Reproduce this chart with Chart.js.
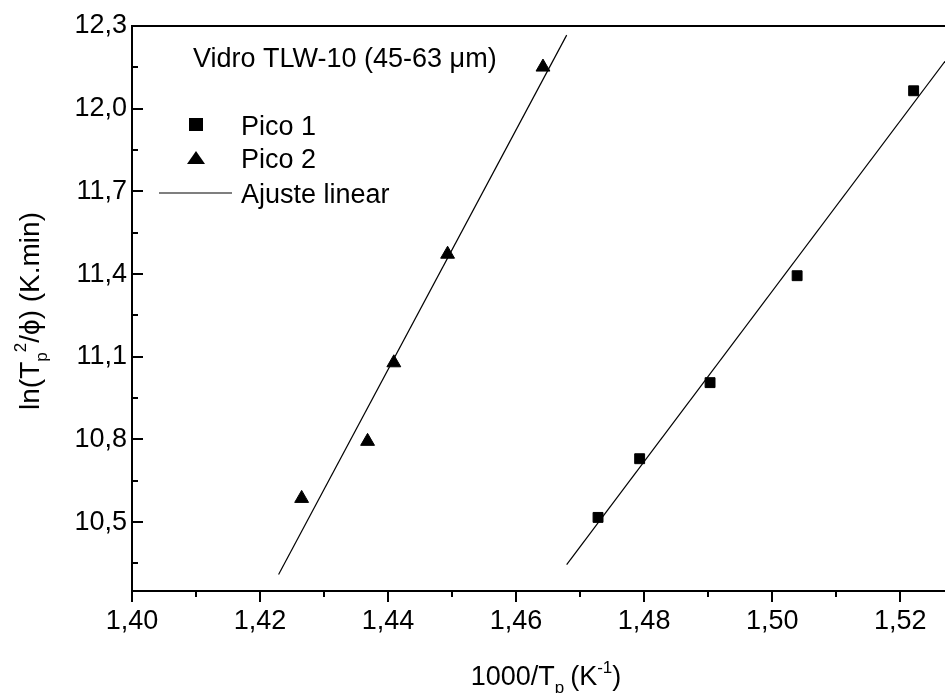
<!DOCTYPE html>
<html><head><meta charset="utf-8">
<script src="https://cdn.jsdelivr.net/npm/chart.js@4"></script>
<style>html,body{margin:0;padding:0;background:#fff;overflow:hidden}#wrap{width:945px;height:693px;position:relative}</style>
</head><body><div id="wrap"><canvas id="c" width="945" height="693"></canvas></div>
<script>
// ---- data ----
const pico1X = [1.4728, 1.4793, 1.4903, 1.5039, 1.5221];
const pico1Y = [10.517, 10.730, 11.006, 11.394, 12.065];
const pico2X = [1.4265, 1.4368, 1.4409, 1.4493, 1.4642];
const pico2Y = [10.586, 10.793, 11.078, 11.472, 12.151];
const fit1X = [1.4679, 1.527];
const fit1Y = [10.346, 12.172];
const fit2X = [1.4229, 1.4679];
const fit2Y = [10.310, 12.267];
const xMajorTicks = [1.40, 1.42, 1.44, 1.46, 1.48, 1.50, 1.52];
const xTickLabels = ['1,40', '1,42', '1,44', '1,46', '1,48', '1,50', '1,52'];
const xMinorTicks = [1.41, 1.43, 1.45, 1.47, 1.49, 1.51];
const yMajorTicks = [10.5, 10.8, 11.1, 11.4, 11.7, 12.0, 12.3];
const yTickLabels = ['10,5', '10,8', '11,1', '11,4', '11,7', '12,0', '12,3'];
const yMinorTicks = [10.35, 10.65, 10.95, 11.25, 11.55, 11.85, 12.15];
const seriesNames = ['Pico 1', 'Pico 2', 'Ajuste linear'];
const noteText = 'Vidro TLW-10 (45-63 \u03BCm)';

const FONT = "'Liberation Sans', Arial, Helvetica, sans-serif";
const FS = 27;

function pts(xs, ys) { return xs.map((x, i) => ({ x: x, y: ys[i] })); }

function richWidth(ctx, parts, size) {
  let w = 0;
  for (const p of parts) {
    ctx.font = ((p.sub || p.sup) ? Math.round(size * 0.62) : size) + 'px ' + FONT;
    w += ctx.measureText(p.t).width + (p.gap || 0);
  }
  return w;
}
function drawRich(ctx, parts, cx, baseY, size) {
  const w = richWidth(ctx, parts, size);
  let x = cx - w / 2;
  ctx.textAlign = 'left';
  ctx.textBaseline = 'alphabetic';
  for (const p of parts) {
    const s = (p.sub || p.sup) ? Math.round(size * 0.62) : size;
    ctx.font = s + 'px ' + FONT;
    const dy = p.sub ? size * 0.3 : (p.sup ? -size * 0.45 : 0);
    ctx.fillText(p.t, x, baseY + dy);
    x += ctx.measureText(p.t).width + (p.gap || 0);
  }
}

const decor = {
  id: 'decor',
  afterDraw(chart) {
    const ctx = chart.ctx;
    const a = chart.chartArea;
    const xs = chart.scales.x, ys = chart.scales.y;
    ctx.save();
    ctx.strokeStyle = '#000';
    ctx.fillStyle = '#000';
    // top frame line
    ctx.lineWidth = 2;
    ctx.beginPath();
    ctx.moveTo(a.left - 1, a.top);
    ctx.lineTo(a.right, a.top);
    ctx.stroke();
    // x ticks (outward)
    const drawX = (vals, len) => {
      for (const v of vals) {
        const px = Math.round(xs.getPixelForValue(v));
        ctx.beginPath(); ctx.moveTo(px, a.bottom); ctx.lineTo(px, a.bottom + len); ctx.stroke();
      }
    };
    drawX(xMajorTicks, 11); drawX(xMinorTicks, 6);
    // y ticks (inward)
    const drawY = (vals, len) => {
      for (const v of vals) {
        const py = Math.round(ys.getPixelForValue(v));
        ctx.beginPath(); ctx.moveTo(a.left, py); ctx.lineTo(a.left + len, py); ctx.stroke();
      }
    };
    drawY(yMajorTicks, 11); drawY(yMinorTicks, 6);

    // axis titles
    ctx.fillStyle = '#000';
    drawRich(ctx, [{ t: '1000/T' }, { t: 'p', sub: true, gap: 6 }, { t: '(K' }, { t: '-1', sup: true }, { t: ')' }], 546, 685, 27);
    ctx.save();
    ctx.translate(39, 311);
    ctx.rotate(-Math.PI / 2);
    drawRich(ctx, [{ t: 'ln(T' }, { t: 'p', sub: true }, { t: '2', sup: true }, { t: '/\u03D5) (K.min)' }], 0, 0, 28);
    ctx.restore();

    // note + legend
    ctx.font = FS + 'px ' + FONT;
    ctx.textAlign = 'left';
    ctx.textBaseline = 'alphabetic';
    ctx.fillText(noteText, 193, 67);
    // square
    ctx.fillRect(189, 118, 14, 13);
    ctx.fillText(seriesNames[0], 241, 135);
    // triangle
    ctx.beginPath();
    ctx.moveTo(196, 151); ctx.lineTo(205, 164); ctx.lineTo(187, 164); ctx.closePath(); ctx.fill();
    ctx.fillText(seriesNames[1], 241, 168);
    // line
    ctx.lineWidth = 1.2;
    ctx.beginPath(); ctx.moveTo(159, 193); ctx.lineTo(232, 193); ctx.stroke();
    ctx.fillText(seriesNames[2], 241, 203);
    ctx.restore();
  }
};

new Chart(document.getElementById('c').getContext('2d'), {
  type: 'scatter',
  data: {
    datasets: [
      { label: seriesNames[0], data: pts(pico1X, pico1Y), pointStyle: 'rect', pointRadius: 7, backgroundColor: '#000', borderColor: '#000', borderWidth: 1, showLine: false },
      { label: seriesNames[1], data: pts(pico2X, pico2Y), pointStyle: 'triangle', pointRadius: 8, backgroundColor: '#000', borderColor: '#000', borderWidth: 1, showLine: false },
      { label: seriesNames[2], data: pts(fit1X, fit1Y), showLine: true, pointRadius: 0, borderColor: '#000', borderWidth: 1.2, fill: false },
      { label: seriesNames[2], data: pts(fit2X, fit2Y), showLine: true, pointRadius: 0, borderColor: '#000', borderWidth: 1.2, fill: false }
    ]
  },
  options: {
    responsive: false,
    animation: false,
    devicePixelRatio: 1,
    layout: { autoPadding: false, padding: { top: 26, right: 0, bottom: 0, left: 0 } },
    plugins: { legend: { display: false }, tooltip: { enabled: false }, title: { display: false } },
    scales: {
      x: {
        type: 'linear', min: 1.40, max: 1.527,
        afterBuildTicks: s => { s.ticks = xMajorTicks.map(v => ({ value: v })); },
        afterFit: s => { s.height = 102; s.paddingLeft = 0; s.paddingRight = 0; },
        grid: { display: false, drawTicks: false },
        border: { display: true, color: '#000', width: 2 },
        ticks: { padding: 14, color: '#000', font: { family: FONT, size: FS }, autoSkip: false, maxRotation: 0,
          callback: (v, i) => xTickLabels[i] }
      },
      y: {
        type: 'linear', min: 10.25, max: 12.3,
        afterBuildTicks: s => { s.ticks = yMajorTicks.map(v => ({ value: v })); },
        afterFit: s => { s.width = 132; },
        grid: { display: false, drawTicks: false },
        border: { display: true, color: '#000', width: 2 },
        ticks: { padding: 5, color: '#000', font: { family: FONT, size: FS }, autoSkip: false,
          callback: (v, i) => yTickLabels[i] }
      }
    }
  },
  plugins: [decor]
});
</script></body></html>
